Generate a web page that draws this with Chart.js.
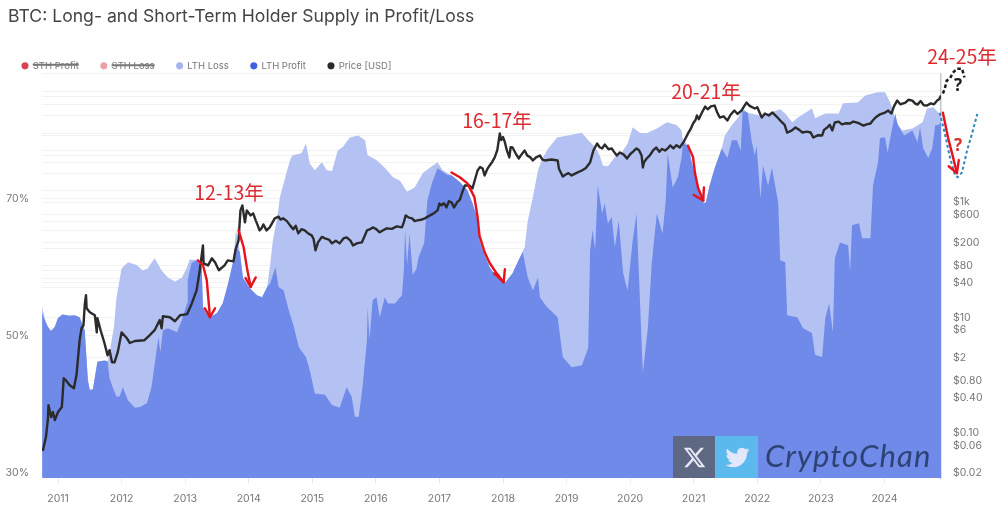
<!DOCTYPE html>
<html>
<head>
<meta charset="utf-8">
<title>BTC: Long- and Short-Term Holder Supply in Profit/Loss</title>
<script src="https://cdn.jsdelivr.net/npm/chart.js@4/dist/chart.umd.min.js"></script>
<style>
    html, body { margin: 0; padding: 0; background: #fff; }
    #wrap { width: 1000px; height: 509px; }
</style>
</head>
<body>
<div id="wrap"><canvas id="holderChart" width="1000" height="509"></canvas></div>
<script>
// -----------------------------
// DATA
// -----------------------------
const supplyYears = [2010.75,2010.79,2010.84,2010.89,2010.95,2011.00,2011.07,2011.18,2011.26,2011.34,2011.39,2011.42,2011.47,2011.50,2011.55,2011.58,2011.62,2011.73,2011.78,2011.81,2011.88,2011.92,2012.00,2012.10,2012.24,2012.33,2012.41,2012.52,2012.63,2012.73,2012.84,2012.95,2013.03,2013.07,2013.18,2013.26,2013.28,2013.32,2013.39,2013.50,2013.59,2013.67,2013.75,2013.80,2013.86,2013.91,2014.02,2014.13,2014.21,2014.29,2014.34,2014.38,2014.45,2014.49,2014.57,2014.65,2014.69,2014.83,2014.90,2014.96,2015.04,2015.15,2015.23,2015.31,2015.40,2015.48,2015.59,2015.72,2015.83,2015.87,2016.01,2016.14,2016.27,2016.38,2016.49,2016.61,2016.74,2016.85,2016.97,2017.05,2017.19,2017.32,2017.44,2017.52,2017.59,2017.63,2017.68,2017.79,2017.90,2018.03,2018.15,2018.26,2018.34,2018.39,2018.47,2018.55,2018.63,2018.71,2018.85,2019.02,2019.24,2019.34,2019.45,2019.52,2019.57,2019.65,2019.76,2019.87,2019.96,2020.04,2020.15,2020.26,2020.42,2020.58,2020.73,2020.81,2020.82,2020.91,2020.99,2021.07,2021.15,2021.19,2021.25,2021.33,2021.44,2021.49,2021.60,2021.70,2021.77,2021.85,2022.04,2022.20,2022.36,2022.44,2022.55,2022.64,2022.86,2022.91,2023.07,2023.28,2023.35,2023.58,2023.70,2023.89,2024.01,2024.09,2024.14,2024.17,2024.28,2024.44,2024.60,2024.67,2024.77,2024.85,2024.89];
const lthTotal = [54.3,52.6,51.3,50.7,51.3,52.6,53.1,52.9,53.0,52.7,51.5,50.8,43.5,42.1,42.2,44.0,46.2,46.4,46.3,47.5,51.3,55.6,59.8,60.7,60.3,59.5,59.8,61.3,59.5,58.5,57.9,58.5,60.0,61.1,61.0,60.0,54.2,53.4,52.7,53.3,54.7,57.4,60.6,65.4,62.2,58.4,56.9,55.9,55.6,57.1,60.6,63.9,67.3,70.2,72.9,75.6,76.3,76.6,78.0,75.1,74.1,75.3,74.1,74.0,77.0,77.5,78.9,79.2,78.5,76.3,75.6,74.5,73.1,72.6,71.0,71.6,73.7,74.5,75.3,74.1,73.4,72.4,71.2,69.3,67.3,63.9,62.5,60.0,58.5,57.7,59.1,61.3,62.9,66.8,70.2,74.1,76.0,77.3,78.9,79.2,79.6,78.5,77.5,76.3,74.8,74.7,76.0,76.7,78.0,80.4,79.6,79.5,80.2,81.1,80.7,79.9,78.8,77.7,74.5,71.6,69.4,69.4,71.9,74.4,77.3,79.2,80.7,81.8,83.1,82.5,82.1,82.5,83.0,82.4,81.1,81.8,83.1,81.7,82.4,82.4,83.9,84.0,85.0,85.5,85.5,84.0,82.8,81.4,79.9,80.2,81.1,83.1,83.3,82.5,82.4];

const profitYears = [2010.75,2010.79,2010.84,2010.89,2010.95,2011.00,2011.07,2011.18,2011.26,2011.34,2011.39,2011.42,2011.47,2011.50,2011.55,2011.58,2011.62,2011.73,2011.78,2011.81,2011.86,2011.92,2011.97,2012.02,2012.10,2012.21,2012.29,2012.40,2012.47,2012.55,2012.58,2012.61,2012.65,2012.73,2012.87,2012.95,2013.03,2013.04,2013.10,2013.18,2013.26,2013.28,2013.32,2013.39,2013.50,2013.59,2013.67,2013.75,2013.81,2013.86,2013.91,2014.02,2014.13,2014.21,2014.29,2014.34,2014.42,2014.47,2014.55,2014.63,2014.71,2014.79,2014.90,2014.96,2015.04,2015.20,2015.31,2015.43,2015.54,2015.62,2015.67,2015.73,2015.79,2015.86,2015.87,2015.90,2015.95,2016.01,2016.06,2016.14,2016.19,2016.30,2016.41,2016.44,2016.46,2016.49,2016.53,2016.58,2016.64,2016.67,2016.76,2016.81,2016.88,2016.97,2017.13,2017.19,2017.32,2017.44,2017.52,2017.59,2017.63,2017.68,2017.79,2017.90,2018.03,2018.15,2018.26,2018.31,2018.39,2018.47,2018.55,2018.58,2018.69,2018.86,2018.94,2019.08,2019.24,2019.34,2019.37,2019.41,2019.45,2019.49,2019.56,2019.60,2019.65,2019.71,2019.76,2019.82,2019.89,2019.96,2020.04,2020.10,2020.20,2020.28,2020.34,2020.42,2020.51,2020.56,2020.59,2020.67,2020.75,2020.81,2020.83,2020.91,2020.99,2021.07,2021.15,2021.19,2021.25,2021.33,2021.44,2021.53,2021.60,2021.68,2021.74,2021.77,2021.85,2021.91,2021.96,2021.99,2022.05,2022.09,2022.17,2022.23,2022.33,2022.36,2022.44,2022.47,2022.63,2022.72,2022.86,2022.91,2023.02,2023.07,2023.13,2023.19,2023.22,2023.30,2023.43,2023.46,2023.49,2023.60,2023.65,2023.78,2023.82,2023.90,2023.93,2024.01,2024.05,2024.12,2024.17,2024.21,2024.31,2024.44,2024.52,2024.56,2024.61,2024.69,2024.75,2024.80,2024.85,2024.89];
const lthProfit = [53.4,52.3,51.3,50.7,51.3,52.6,53.1,52.9,53.0,52.7,51.5,50.8,43.5,42.1,42.2,44.0,46.2,46.4,46.3,43.8,42.5,41.1,41.2,42.5,40.6,39.5,39.6,40.2,42.5,47.9,49.8,47.6,50.8,51.1,50.5,52.3,54.7,58.1,60.6,61.0,60.0,54.2,53.4,52.7,53.3,54.7,57.4,60.6,62.8,62.2,58.4,56.9,55.9,55.6,57.1,57.7,60.0,57.1,56.6,53.7,51.3,48.3,46.9,45.0,41.6,41.4,39.9,39.5,42.5,41.1,38.2,38.2,42.5,49.4,54.2,49.4,55.2,55.6,52.7,55.6,54.7,54.7,55.9,59.5,65.4,60.3,64.9,58.8,59.8,61.4,63.5,69.7,72.2,74.4,73.4,73.4,72.4,71.2,69.3,67.3,63.9,62.5,60.0,58.5,57.7,59.1,61.3,62.2,58.5,56.6,58.5,55.6,54.2,52.7,46.9,45.4,45.7,48.2,62.5,65.4,62.5,71.9,67.8,69.3,66.4,67.3,62.9,66.8,59.1,56.6,63.9,67.8,44.6,51.3,60.6,67.8,64.9,69.7,76.6,71.6,73.1,76.0,78.0,77.7,74.5,71.6,69.4,69.4,71.9,74.4,77.3,75.9,78.5,78.5,77.0,82.8,82.5,78.5,76.3,77.7,70.0,74.8,71.9,74.5,69.4,61.0,60.7,53.0,52.7,51.1,50.4,47.2,46.9,52.6,54.7,50.5,61.3,63.6,63.2,59.3,66.1,66.4,64.2,64.2,71.9,75.3,78.8,78.9,76.7,80.2,82.4,80.7,79.2,79.9,78.2,80.4,77.3,75.9,77.3,80.7,80.7,81.1];

const priceYears = [2010.76,2010.81,2010.84,2010.85,2010.89,2010.92,2010.95,2011.00,2011.06,2011.09,2011.12,2011.18,2011.25,2011.29,2011.34,2011.37,2011.40,2011.42,2011.44,2011.45,2011.50,2011.58,2011.61,2011.62,2011.67,2011.73,2011.78,2011.81,2011.85,2011.89,2011.94,2012.00,2012.08,2012.13,2012.21,2012.36,2012.44,2012.52,2012.60,2012.63,2012.65,2012.76,2012.84,2012.92,2013.03,2013.10,2013.18,2013.23,2013.28,2013.29,2013.36,2013.42,2013.47,2013.53,2013.62,2013.67,2013.76,2013.79,2013.84,2013.87,2013.90,2013.94,2013.97,2014.03,2014.07,2014.11,2014.14,2014.17,2014.20,2014.23,2014.28,2014.33,2014.41,2014.47,2014.50,2014.54,2014.60,2014.65,2014.70,2014.74,2014.78,2014.83,2014.88,2014.93,2014.99,2015.02,2015.05,2015.09,2015.15,2015.20,2015.26,2015.31,2015.37,2015.43,2015.49,2015.54,2015.60,2015.64,2015.71,2015.78,2015.82,2015.86,2015.91,2015.95,2016.00,2016.06,2016.10,2016.17,2016.25,2016.33,2016.41,2016.44,2016.47,2016.52,2016.57,2016.61,2016.65,2016.71,2016.77,2016.85,2016.91,2016.97,2017.00,2017.03,2017.07,2017.11,2017.15,2017.19,2017.23,2017.28,2017.32,2017.36,2017.40,2017.47,2017.52,2017.56,2017.60,2017.64,2017.68,2017.71,2017.75,2017.79,2017.83,2017.87,2017.91,2017.95,2017.97,2018.00,2018.03,2018.06,2018.10,2018.12,2018.15,2018.20,2018.25,2018.28,2018.34,2018.38,2018.43,2018.47,2018.52,2018.58,2018.62,2018.66,2018.76,2018.86,2018.88,2018.94,2018.98,2019.03,2019.08,2019.15,2019.24,2019.30,2019.37,2019.42,2019.48,2019.52,2019.56,2019.60,2019.66,2019.71,2019.75,2019.79,2019.84,2019.90,2019.95,2020.00,2020.05,2020.10,2020.14,2020.18,2020.20,2020.22,2020.26,2020.31,2020.36,2020.41,2020.46,2020.50,2020.55,2020.60,2020.63,2020.68,2020.73,2020.78,2020.84,2020.91,2020.95,2020.99,2021.03,2021.05,2021.08,2021.13,2021.18,2021.22,2021.27,2021.33,2021.37,2021.41,2021.47,2021.53,2021.58,2021.64,2021.69,2021.75,2021.83,2021.88,2021.96,2022.00,2022.07,2022.12,2022.18,2022.24,2022.30,2022.39,2022.43,2022.47,2022.54,2022.60,2022.66,2022.71,2022.78,2022.84,2022.88,2022.95,2023.02,2023.05,2023.10,2023.14,2023.18,2023.22,2023.28,2023.33,2023.40,2023.46,2023.51,2023.57,2023.62,2023.67,2023.72,2023.78,2023.82,2023.86,2023.92,2024.01,2024.06,2024.11,2024.15,2024.20,2024.25,2024.33,2024.38,2024.44,2024.48,2024.52,2024.57,2024.62,2024.67,2024.73,2024.78,2024.83,2024.86,2024.89];
const priceUsd = [0.048,0.084,0.166,0.30,0.187,0.228,0.166,0.228,0.278,0.88,0.82,0.67,0.59,1.0,4.03,6.5,7.3,16.3,24.3,14.5,12.3,10.9,5.5,9.7,6.0,3.6,2.2,2.7,1.67,1.67,2.5,5.5,4.4,3.6,3.9,4.03,4.9,6.0,9.0,6.5,10.5,10.1,8.6,10.9,11.4,17,29.6,66,178,87,80,106,91,66,80,98,94,146,218,721,881,447,721,590,640,484,400,324,350,412,324,366,525,560,500,525,470,396,340,390,288,340,324,290,266,230,146,201,250,236,225,193,215,193,235,245,215,178,195,201,255,324,340,366,345,300,320,352,345,380,366,450,590,540,525,470,484,495,525,590,640,721,950,881,960,813,1040,993,813,1000,1100,1500,1954,1954,1734,2500,3556,4100,3855,2917,3700,4345,5000,5984,8000,15600,12000,13500,10890,8000,5984,9000,8912,7000,5741,6500,7907,6500,6000,5309,6000,6471,5500,5309,5500,5309,3800,2800,3000,3200,2917,3200,3556,3900,4898,7800,10450,9000,8570,10000,8300,8570,7400,6471,7295,6700,5741,6800,7600,8570,8000,6471,4009,5000,5741,6500,7907,8900,7500,8400,7907,8800,9660,8600,9800,8912,11000,15600,18500,23200,27000,32000,27500,36000,45700,41000,46000,47600,36000,29500,31000,26200,33000,39000,34000,39000,53700,47000,42300,44500,29500,34600,32000,36000,31000,24200,22000,16200,17500,19800,18000,16200,16800,16200,13300,14500,14400,18000,19800,22000,17600,24200,25000,22500,23500,23200,25100,24000,22800,21400,22500,23200,26500,29500,33000,36000,39000,34600,46000,58100,50000,53700,60000,58100,52000,49500,57000,48000,47600,52000,50000,58100,61000,71000];

const yearTicks = [2011,2012,2013,2014,2015,2016,2017,2018,2019,2020,2021,2022,2023,2024];
const percentTicks = [30,50,70];
const priceLabelTicks = [0.02,0.06,0.1,0.4,0.8,2,6,10,40,80,200,600,1000];
const priceLabelText = ['$0.02','$0.06','$0.10','$0.40','$0.80','$2','$6','$10','$40','$80','$200','$600','$1k'];
const priceGridOnly = [170600,82000,68200,49500,32000,15600,14400,7900,6470,4900,3150,1600,465,324,158,66,48,33];

const seriesNames = ['STH Profit','STH Loss','LTH Loss','LTH Profit','Price [USD]'];
const legendColors = ['#d9434f','#eba0a6','#a5b4ef','#3e5fdf','#2b2b2b'];

// hand drawn notes on the picture, [year, value] pairs
const arrowPaths = [
    { shaft: [[2013.20,61.0],[2013.28,60.3],[2013.34,58.1],[2013.39,52.7]], head: [[2013.31,54.0],[2013.39,52.7],[2013.47,54.0]] },
    { shaft: [[2013.84,65.4],[2013.92,62.9],[2013.97,60.0],[2014.03,57.1]], head: [[2013.95,58.4],[2014.03,57.1],[2014.11,58.5]] },
    { shaft: [[2017.19,73.8],[2017.32,73.1],[2017.44,72.2],[2017.55,70.2],[2017.60,67.3],[2017.63,64.6],[2017.71,62.2],[2017.79,60.6],[2017.90,59.1],[2018.01,57.8]], head: [[2017.86,59.1],[2018.01,57.8],[2018.03,59.7]] },
    { shaft: [[2020.91,77.7],[2020.99,76.0],[2021.02,73.7],[2021.07,71.5],[2021.15,69.7]], head: [[2021.00,70.5],[2021.15,69.7],[2021.16,71.6]] },
    { shaft: [[2024.92,82.5],[2025.00,78.9],[2025.08,76.0],[2025.14,73.7]], head: [[2025.01,74.7],[2025.14,73.7],[2025.17,75.6]] }
];
const blueDotted = [[2024.87,82.5],[2024.95,79.5],[2025.03,76.0],[2025.11,73.4],[2025.15,73.1],[2025.22,73.8],[2025.30,77.0],[2025.38,79.5],[2025.46,82.3]];
const blackDotted = [[2024.92,76900],[2024.95,93800],[2024.98,129000],[2025.03,140000],[2025.08,178000],[2025.14,208000],[2025.22,208000],[2025.26,146000]];
const noteLabels = [
    { text: '12-13年', x: 229, y: 193 },
    { text: '16-17年', x: 497, y: 121 },
    { text: '20-21年', x: 706, y: 92 },
    { text: '24-25年', x: 962, y: 57 }
];

const zip = (xs, ys) => xs.map((x, i) => ({ x, y: ys[i] }));

// -----------------------------
// NOTES AND WATERMARK
// -----------------------------
const notesPlugin = {
    id: 'notes',
    afterLayout(chart) {
        // title starts at x=8, legend sits lower than its default box
        chart.titleBlock.left += 8;
        chart.legend.top += 7;
    },
    afterDatasetsDraw(chart) {
        const c = chart.ctx;
        const px = v => chart.scales.x.getPixelForValue(v);
        const pct = v => chart.scales.yPct.getPixelForValue(v);
        const usd = v => chart.scales.yUsd.getPixelForValue(v);

        const stroke = (pts, yFn, color, width, dash) => {
            c.save();
            c.beginPath();
            pts.forEach((p, i) => {
                if (i === 0) c.moveTo(px(p[0]), yFn(p[1]));
                else c.lineTo(px(p[0]), yFn(p[1]));
            });
            c.strokeStyle = color;
            c.lineWidth = width;
            c.lineJoin = 'round';
            c.lineCap = dash.length ? 'butt' : 'round';
            c.setLineDash(dash);
            c.stroke();
            c.restore();
        };

        stroke(blueDotted, pct, '#2a86bd', 2, [3, 2.5]);
        stroke(blackDotted, usd, '#1c1c1c', 2.5, [3.5, 2.5]);
        arrowPaths.forEach(a => {
            stroke(a.shaft, pct, '#e8121c', 2.4, []);
            stroke(a.head, pct, '#e8121c', 2.4, []);
        });

        c.save();
        c.textAlign = 'center';
        c.textBaseline = 'middle';
        c.fillStyle = '#dd2a30';
        c.font = '19.5px "Noto Sans CJK SC"';
        noteLabels.forEach(n => c.fillText(n.text, n.x, n.y));
        c.font = 'bold 17px "Noto Sans"';
        c.fillStyle = '#d9302f';
        c.fillText('?', 958, 146);
        c.fillStyle = '#1c1c1c';
        c.fillText('?', 958, 86);

        // watermark
        c.fillStyle = '#5f6883';
        c.fillRect(673, 436, 42, 42);
        c.fillStyle = '#5bb9ee';
        c.fillRect(715, 436, 43, 42);
        c.save();
        c.translate(682.5, 445.5);
        c.fillStyle = '#e6e9f4';
        c.fill(new Path2D('M18.244 2.25h3.308l-7.227 8.26 8.502 11.24H16.17l-5.214-6.817L4.99 21.75H1.68l7.73-8.835L1.254 2.25H8.08l4.713 6.231zm-1.161 17.52h1.833L7.084 4.126H5.117z'));
        c.restore();
        c.save();
        c.translate(725.5, 445.5);
        c.fillStyle = '#e2e8fb';
        c.fill(new Path2D('M23.953 4.57a10 10 0 01-2.825.775 4.958 4.958 0 002.163-2.723c-.951.555-2.005.959-3.127 1.184a4.92 4.92 0 00-8.384 4.482C7.69 8.095 4.067 6.13 1.64 3.162a4.822 4.822 0 00-.666 2.475c0 1.71.87 3.213 2.188 4.096a4.904 4.904 0 01-2.228-.616v.06a4.923 4.923 0 003.946 4.827 4.996 4.996 0 01-2.212.085 4.936 4.936 0 004.604 3.417 9.867 9.867 0 01-6.102 2.105c-.39 0-.779-.023-1.17-.067a13.995 13.995 0 007.557 2.209c9.053 0 13.998-7.496 13.998-13.985 0-.21 0-.42-.015-.63A9.935 9.935 0 0024 4.59z'));
        c.restore();
        c.textAlign = 'left';
        c.textBaseline = 'alphabetic';
        c.fillStyle = '#2e4375';
        c.font = 'italic 31px "Lato"';
        c.letterSpacing = '1.1px';
        c.fillText('CryptoChan', 765, 467);
        c.restore();
    }
};

// -----------------------------
// CHART
// -----------------------------
new Chart(document.getElementById('holderChart'), {
    type: 'line',
    data: {
        datasets: [
            { label: seriesNames[0], data: [], hidden: true, yAxisID: 'yPct', backgroundColor: legendColors[0] },
            { label: seriesNames[1], data: [], hidden: true, yAxisID: 'yPct', backgroundColor: legendColors[1] },
            {
                label: seriesNames[2],
                data: zip(supplyYears, lthTotal),
                yAxisID: 'yPct',
                backgroundColor: '#b4c2f3',
                borderWidth: 0,
                pointRadius: 0,
                tension: 0,
                fill: 'start',
                order: 3
            },
            {
                label: seriesNames[3],
                data: zip(profitYears, lthProfit),
                yAxisID: 'yPct',
                backgroundColor: '#6f8ae8',
                borderWidth: 0,
                pointRadius: 0,
                tension: 0,
                fill: 'start',
                order: 2
            },
            {
                label: seriesNames[4],
                data: zip(priceYears, priceUsd),
                yAxisID: 'yUsd',
                borderColor: '#2b2b2b',
                backgroundColor: '#2b2b2b',
                borderWidth: 2.4,
                borderJoinStyle: 'round',
                pointRadius: 0,
                tension: 0,
                fill: false,
                order: 1
            }
        ]
    },
    options: {
        responsive: false,
        animation: false,
        devicePixelRatio: 1,
        plugins: {
            tooltip: { enabled: false },
            title: {
                display: true,
                text: 'BTC: Long- and Short-Term Holder Supply in Profit/Loss',
                align: 'start',
                color: '#444',
                font: { family: 'Inter', size: 17.6, weight: 'normal' },
                padding: { top: 6, bottom: 5 }
            },
            legend: {
                display: true,
                align: 'start',
                labels: {
                    usePointStyle: true,
                    pointStyle: 'circle',
                    boxWidth: 6,
                    boxHeight: 5,
                    padding: 22,
                    color: '#777',
                    font: { family: 'Inter', size: 9.5 },
                    sort: (a, b) => a.datasetIndex - b.datasetIndex,
                    generateLabels(chart) {
                        const base = Chart.defaults.plugins.legend.labels.generateLabels(chart);
                        base.forEach(item => {
                            item.fillStyle = legendColors[item.datasetIndex];
                            item.strokeStyle = legendColors[item.datasetIndex];
                            item.lineWidth = 0;
                        });
                        return base;
                    }
                }
            }
        },
        scales: {
            x: {
                type: 'linear',
                min: 2010.748,
                max: 2024.89,
                afterBuildTicks: s => { s.ticks = yearTicks.map(v => ({ value: v })); },
                afterFit: s => { s.height = 31; },
                border: { display: false },
                grid: { drawOnChartArea: false, drawTicks: true, tickLength: 5, color: '#e8e8e8' },
                ticks: {
                    autoSkip: false,
                    maxRotation: 0,
                    color: '#777',
                    padding: 10,
                    font: { family: 'Inter', size: 10.5 },
                    callback: v => String(v)
                }
            },
            yPct: {
                type: 'linear',
                position: 'left',
                min: 29.27,
                max: 88.2,
                afterBuildTicks: s => { s.ticks = percentTicks.map(v => ({ value: v })); },
                afterFit: s => { s.width = 42; },
                border: { display: false },
                grid: { drawTicks: false, color: '#f2f2f2' },
                ticks: {
                    autoSkip: false,
                    color: '#777',
                    padding: 13,
                    font: { family: 'Inter', size: 10.5 },
                    callback: v => v + '%'
                }
            },
            yUsd: {
                type: 'logarithmic',
                position: 'right',
                min: 0.01634,
                max: 170600,
                afterBuildTicks: s => {
                    s.ticks = priceLabelTicks.concat(priceGridOnly).map(v => ({ value: v }));
                },
                afterFit: s => { s.width = 59; },
                border: { display: true, color: '#c6c6c6', width: 1.5 },
                grid: { drawTicks: false, color: '#f2f2f2' },
                ticks: {
                    autoSkip: false,
                    color: '#777',
                    padding: 12,
                    font: { family: 'Inter', size: 10.5 },
                    callback: v => {
                        const i = priceLabelTicks.indexOf(v);
                        return i >= 0 ? priceLabelText[i] : '';
                    }
                }
            }
        }
    },
    plugins: [notesPlugin]
});
</script>
</body>
</html>
